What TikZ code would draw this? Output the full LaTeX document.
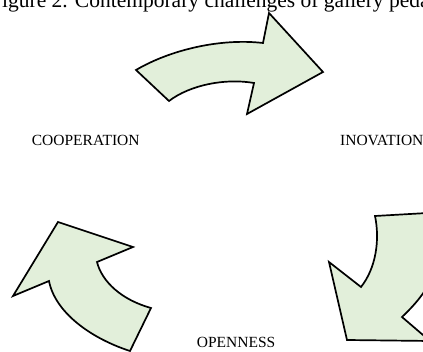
\documentclass[tikz,border=0pt]{standalone}
\usepackage{fontspec}
\setmainfont{Liberation Serif}
\usepackage{xcolor}
\usepackage{tikz}

\definecolor{leafgreen}{HTML}{E2EFDA}
\tikzset{
  cyclearrow/.style={draw=black, fill=leafgreen, line width=1.7pt, line join=miter},
  keyword/.style={anchor=base west, inner sep=0pt, font=\fontsize{15.5}{18}\selectfont},
}

\begin{document}
\begin{tikzpicture}[x=1pt,y=-1pt]
\useasboundingbox (0,0) rectangle (423,352);
\clip (0,0) rectangle (423,352);
\node[anchor=base west, inner sep=0pt, font=\fontsize{21.5}{25}\selectfont] (title) at (-10,7.5) {Figure 2. Contemporary challenges of gallery pedagogy};

% upper arrow, pointing right
\draw[cyclearrow] (136,70) .. controls (170,50) and (220,38) .. (263,43) -- (269,13) -- (323,72) -- (247,114) -- (254,83)
  .. controls (225,78) and (190,85) .. (169,101) -- cycle;

% right arrow, pointing down and left
\draw[cyclearrow] (375,216) -- (445,212) .. controls (445,270) and (425,295) .. (402,317) -- (430,341) -- (347,340) -- (329,262) -- (361,287)
  .. controls (376,268) and (380,240) .. (375,216) -- cycle;

% left arrow, pointing up
\draw[cyclearrow] (151,308) .. controls (122,300) and (102,282) .. (97,262) -- (133,247) -- (58,222) -- (13,296) -- (49,281)
  .. controls (55,312) and (90,338) .. (130,351) -- cycle;

\node[keyword] (coop) at (31.7,146) {COOPERATION};
\node[keyword] (inov) at (340,146) {INOVATION};
\node[keyword] (open) at (196.7,348) {OPENNESS};
\end{tikzpicture}
\end{document}
